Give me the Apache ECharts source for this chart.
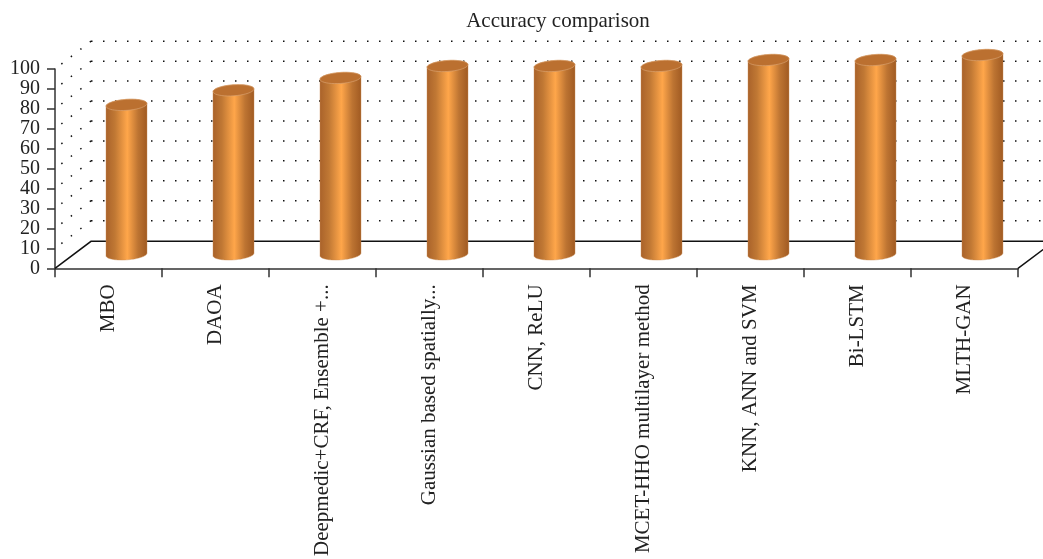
<!DOCTYPE html>
<html>
<head>
<meta charset="utf-8">
<title>Accuracy comparison</title>
<script src="https://cdn.jsdelivr.net/npm/echarts@6/dist/echarts.min.js"></script>
<style>html,body{margin:0;padding:0;background:#fff}#chart{width:1043px;height:559px}</style>
</head>
<body>
<div id="chart"></div>
<script>
const categories = ['MBO', 'DAOA', 'Deepmedic+CRF, Ensemble +...', 'Gaussian based spatially...', 'CNN, ReLU', 'MCET-HHO multilayer method', 'KNN, ANN and SVM', 'Bi-LSTM', 'MLTH-GAN'];
const accuracy = [75, 82.3, 88.5, 94.5, 94.5, 94.5, 97.5, 97.5, 100];
const wallLevels = [0, 10, 20, 30, 40, 50, 60, 70, 80, 90, 100];

// Oblique projection of the 3D box: how far the back wall sits from the front plane.
const DEPTH_X = 36;
const DEPTH_Y = -27;
const SERIF = '"Liberation Serif", serif';

const chart = echarts.init(document.getElementById('chart'), null, { renderer: 'canvas' });

function renderWall(params, api) {
  const level = api.value(0);
  const grid = params.coordSys;
  const frontY = api.coord([0, level])[1];
  const backY = frontY + DEPTH_Y;
  const left = grid.x, right = grid.x + grid.width;
  const dotted = { stroke: '#111', lineWidth: 1.5, lineDash: [1.5, 10.5], fill: null };
  const solid = { stroke: '#111', lineWidth: 1.5, fill: null };
  if (level === 0) {
    return {
      type: 'polyline',
      shape: { points: [[left, frontY], [left + DEPTH_X, backY], [right + DEPTH_X, backY], [right, frontY]] },
      style: solid
    };
  }
  // Both dotted runs start at the wall's left edge so their dots line up there.
  return {
    type: 'group',
    children: [
      { type: 'line', shape: { x1: left + DEPTH_X, y1: backY - 0.8, x2: right + DEPTH_X, y2: backY - 0.8 }, style: dotted },
      { type: 'line', shape: { x1: left + DEPTH_X, y1: backY - 0.8, x2: left, y2: frontY }, style: dotted }
    ]
  };
}

// Outline of an ellipse leaning a few degrees, as polygon points.
function ellipsePoints(cx, cy, rx, ry, tilt, from, to) {
  const pts = [];
  const steps = 40;
  for (let k = 0; k <= steps; k++) {
    const a = from + (to - from) * k / steps;
    const ex = rx * Math.cos(a), ey = ry * Math.sin(a);
    pts.push([cx + ex * Math.cos(tilt) - ey * Math.sin(tilt), cy + ex * Math.sin(tilt) + ey * Math.cos(tilt)]);
  }
  return pts;
}

function renderCylinder(params, api) {
  const idx = api.value(0);
  const value = api.value(1);
  const top = api.coord([idx, value]);
  const base = api.coord([idx, 0]);
  const cx = top[0] + DEPTH_X / 2;
  const shiftY = DEPTH_Y / 2 - 0.5;
  const baseY = base[1] + shiftY;
  const topY = top[1] + shiftY;
  const rx = api.size([1, 0])[0] * 0.192;
  const ry = 5.5;
  const tilt = -0.07;
  const bodyPoints = ellipsePoints(cx, baseY, rx, ry, tilt, 0, Math.PI)
    .concat(ellipsePoints(cx, topY, rx, ry, tilt, Math.PI, 2 * Math.PI));
  const sideFill = {
    type: 'linear', x: 0, y: 0, x2: 1, y2: 0,
    colorStops: [
      { offset: 0, color: '#a9622a' },
      { offset: 0.22, color: '#c07834' },
      { offset: 0.52, color: '#ffa64a' },
      { offset: 0.78, color: '#bd7432' },
      { offset: 1, color: '#a05a22' }
    ]
  };
  return {
    type: 'group',
    children: [
      { type: 'polygon', shape: { points: bodyPoints }, style: { fill: sideFill, stroke: '#c98a52', lineWidth: 0.4 } },
      {
        type: 'polygon',
        shape: { points: ellipsePoints(cx, topY, rx, ry, tilt, 0, 2 * Math.PI) },
        style: { fill: '#bb7030', stroke: '#dca878', lineWidth: 0.6 }
      }
    ]
  };
}

chart.setOption({
  animation: false,
  backgroundColor: '#ffffff',
  title: {
    text: 'Accuracy comparison',
    left: 553,
    top: 6,
    textAlign: 'center',
    textStyle: { fontFamily: SERIF, fontWeight: 'normal', fontSize: 21, color: '#222' }
  },
  grid: { left: 55, right: 25, top: 69, bottom: 290, containLabel: false },
  xAxis: {
    type: 'category',
    data: categories,
    boundaryGap: true,
    axisLine: { lineStyle: { color: '#333', width: 1.5 } },
    axisTick: { show: true, alignWithLabel: false, interval: 0, length: 9, lineStyle: { color: '#333', width: 1.5 } },
    axisLabel: {
      interval: 0, rotate: 90, margin: 16,
      fontFamily: SERIF, fontSize: 21, color: '#222'
    },
    splitLine: { show: false }
  },
  yAxis: {
    type: 'value',
    min: 0,
    max: 100,
    interval: 10,
    axisLine: { show: true, lineStyle: { color: '#333', width: 1.5 } },
    axisTick: { show: true, length: 8, lineStyle: { color: '#333', width: 1.5 } },
    axisLabel: { margin: 15, fontFamily: SERIF, fontSize: 20, color: '#222' },
    splitLine: { show: false }
  },
  series: [
    {
      type: 'custom',
      name: 'Back wall',
      coordinateSystem: 'cartesian2d',
      renderItem: renderWall,
      data: wallLevels.map(v => [v]),
      encode: { y: 0 },
      z: 1,
      clip: false,
      silent: true
    },
    {
      type: 'custom',
      name: 'Accuracy',
      coordinateSystem: 'cartesian2d',
      renderItem: renderCylinder,
      data: accuracy.map((v, i) => [i, v]),
      encode: { x: 0, y: 1 },
      z: 3,
      clip: false
    }
  ]
});
</script>
</body>
</html>
